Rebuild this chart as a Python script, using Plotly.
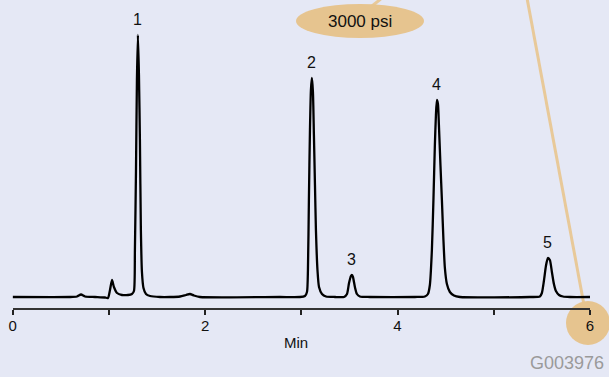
import plotly.graph_objects as go

# Chromatogram trace (time in min, detector signal in arbitrary units)
time_min = [0.000, 0.596, 0.669, 0.711, 0.753, 0.856, 0.960, 0.991, 1.012, 1.033, 1.053, 1.085,
            1.136, 1.199, 1.240, 1.261, 1.271, 1.282, 1.292, 1.302, 1.313, 1.323, 1.333, 1.344,
            1.360, 1.386, 1.428, 1.532, 1.636, 1.740, 1.801, 1.843, 1.884, 1.947, 2.778, 2.986,
            3.038, 3.059, 3.069, 3.079, 3.090, 3.100, 3.110, 3.121, 3.131, 3.142, 3.152, 3.168,
            3.184, 3.215, 3.257, 3.350, 3.444, 3.475, 3.496, 3.516, 3.526, 3.537, 3.557, 3.578,
            3.609, 3.713, 4.181, 4.284, 4.316, 4.336, 4.357, 4.373, 4.388, 4.399, 4.409, 4.420,
            4.430, 4.446, 4.461, 4.477, 4.492, 4.513, 4.544, 4.586, 4.649, 5.376, 5.479, 5.500,
            5.521, 5.542, 5.562, 5.583, 5.604, 5.625, 5.646, 5.678, 5.719, 5.792, 6.000]
signal = [0, 0, 0.5, 2.5, 0.5, 0, -0.5, -1, 7, 17, 10, 4,
          2, 2, 3, 6, 47, 125, 217, 262, 222, 157, 67, 25,
          9, 3, 1, 0, 0, 0.5, 2, 3, 1.5, 0, 0, 0,
          1, 5, 27, 97, 167, 207, 219, 205, 162, 112, 67, 27,
          10, 3, 0.5, 0, 0, 3, 14, 21, 22, 20, 10, 3,
          0.5, 0, 0, 0.5, 3, 12, 47, 97, 152, 182, 197, 193,
          172, 132, 97, 57, 29, 13, 5, 1.5, 0, 0, 0.5, 4,
          16, 31, 39, 37, 25, 13, 6, 2, 0.5, 0, 0]

# Peak labels
peak_names = ["1", "2", "3", "4", "5"]
peak_times = [1.302, 3.110, 3.526, 4.409, 5.562]
peak_heights = [262, 219, 22, 197, 39]

tick_vals = [0, 2, 4, 6]
tick_text = ["0", "2", "4", "6"]

BG = "#e5e8f5"
TAN = "#e6c48f"
TAN_LINE = "#e8c999"
W, H = 609, 377
FONT = "Liberation Sans, Arial, sans-serif"

def px(x):
    return x / W

def py(y):
    return 1 - y / H

fig = go.Figure()
fig.add_trace(go.Scatter(
    x=time_min, y=signal, mode="lines",
    line=dict(color="black", width=2.3, shape="spline", smoothing=0.6),
    hoverinfo="skip", showlegend=False,
))

for name, t, h in zip(peak_names, peak_times, peak_heights):
    fig.add_annotation(x=t, y=h, text=name, showarrow=False, xref="x", yref="y",
                       yanchor="bottom", yshift=5,
                       font=dict(family=FONT, size=16, color="#111"))

# Decorations: pressure callouts
fig.add_shape(type="line", xref="paper", yref="paper",
              x0=px(372), y0=py(6), x1=px(382), y1=py(-2),
              line=dict(color=TAN_LINE, width=3), layer="below")
fig.add_shape(type="line", xref="paper", yref="paper",
              x0=px(527), y0=py(-2), x1=px(584), y1=py(305),
              line=dict(color=TAN_LINE, width=3), layer="below")
fig.add_shape(type="circle", xref="paper", yref="paper",
              x0=px(296), y0=py(4), x1=px(424), y1=py(38),
              fillcolor=TAN, line=dict(width=0), layer="below")
fig.add_shape(type="circle", xref="paper", yref="paper",
              x0=px(566), y0=py(301), x1=px(610), y1=py(345),
              fillcolor=TAN, line=dict(width=0), layer="below")
fig.add_annotation(x=px(360), y=py(21), xref="paper", yref="paper", text="3000 psi",
                   showarrow=False, xanchor="center", yanchor="middle",
                   font=dict(family=FONT, size=17, color="#111"))
fig.add_annotation(x=px(606), y=py(363), xref="paper", yref="paper", text="G003976",
                   showarrow=False, xanchor="right", yanchor="middle",
                   font=dict(family=FONT, size=18, color="#9a9a9a"))
fig.add_annotation(x=px(296), y=py(342), xref="paper", yref="paper", text="Min",
                   showarrow=False, xanchor="center", yanchor="middle",
                   font=dict(family=FONT, size=15, color="#111"))

fig.update_layout(
    width=W, height=H,
    margin=dict(l=0, r=0, t=0, b=0, autoexpand=False),
    paper_bgcolor=BG, plot_bgcolor=BG,
    xaxis=dict(
        domain=[px(12.6), px(590)], range=[0, 6], automargin=False,
        showline=True, linecolor="#333", linewidth=2,
        ticks="outside", ticklen=5, tickwidth=2, tickcolor="#222",
        tickvals=tick_vals, ticktext=tick_text, ticklabelstandoff=-2,
        minor=dict(tickvals=[1, 3, 5], ticks="outside", ticklen=5, tickwidth=2, tickcolor="#222"),
        showgrid=False, zeroline=False,
        tickfont=dict(family=FONT, size=15, color="#111"),
    ),
    yaxis=dict(domain=[(H - 308) / H, 1], range=[-11, 297], visible=False, automargin=False),
)

fig.write_html("out.html")
